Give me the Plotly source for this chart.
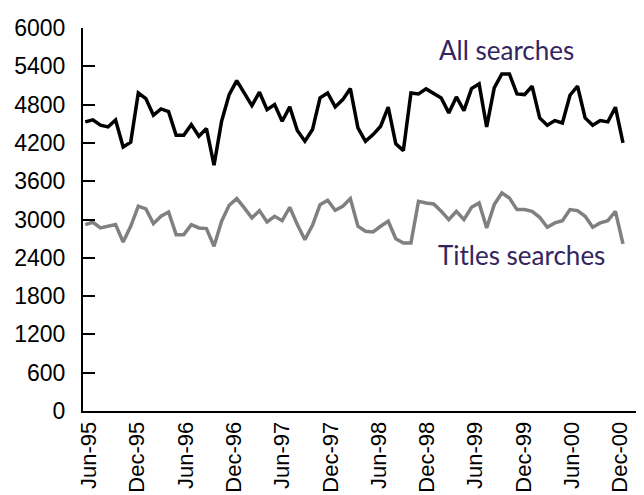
import numpy as np
import plotly.graph_objects as go

# Monthly series (index positions)
all_searches = [4529, 4560, 4477, 4450, 4560, 4137, 4210, 4983, 4894, 4634,
                4732, 4690, 4320, 4320, 4486, 4305, 4424, 3850, 4540, 4957,
                5176, 4967, 4784, 4994, 4721, 4800, 4540, 4764, 4393, 4226,
                4409, 4905, 4983, 4764, 4878, 5051, 4435, 4226, 4330, 4461,
                4759, 4184, 4079, 4983, 4967, 5046, 4983, 4905, 4670, 4920,
                4706, 5051, 5124, 4450, 5061, 5281, 5281, 4967, 4957, 5088,
                4591, 4477, 4550, 4513, 4947, 5088, 4591, 4477, 4550, 4529,
                4759, 4200]
titles_searches = [2920, 2957, 2868, 2894, 2920, 2648, 2894, 3208, 3165, 2935,
                   3051, 3118, 2763, 2763, 2920, 2868, 2857, 2581, 2973, 3223,
                   3327, 3181, 3024, 3139, 2962, 3051, 2982, 3192, 2920, 2684,
                   2910, 3233, 3302, 3145, 3208, 3327, 2894, 2816, 2805, 2894,
                   2973, 2700, 2633, 2633, 3286, 3259, 3244, 3129, 2998, 3129,
                   2998, 3192, 3259, 2868, 3233, 3416, 3338, 3155, 3155, 3129,
                   3035, 2879, 2946, 2982, 3155, 3139, 3051, 2879, 2946, 2982,
                   3129, 2617]
tick_labels = ["Jun-95", "Dec-95", "Jun-96", "Dec-96", "Jun-97", "Dec-97",
               "Jun-98", "Dec-98", "Jun-99", "Dec-99", "Jun-00", "Dec-00"]
y_ticks = list(range(0, 6001, 600))

x = list(range(len(all_searches)))
tick_pos = np.linspace(0.5, 70.6, len(tick_labels))

fig = go.Figure()
fig.add_trace(go.Scatter(x=x, y=titles_searches, mode="lines",
                         line=dict(color="#808080", width=3.5), showlegend=False))
fig.add_trace(go.Scatter(x=x, y=all_searches, mode="lines",
                         line=dict(color="#000000", width=3.5), showlegend=False))

label_font = dict(family="Lato", size=26, color="#34255F")
fig.add_annotation(x=0.745, xref="paper", y=5660, yref="y", text="All searches",
                   showarrow=False, font=label_font, xanchor="center", yanchor="middle")
fig.add_annotation(x=0.77, xref="paper", y=2440, yref="y", text="Titles searches",
                   showarrow=False, font=label_font, xanchor="center", yanchor="middle")

fig.update_layout(
    width=644, height=495,
    margin=dict(l=75, r=0, t=20, b=92),
    paper_bgcolor="white", plot_bgcolor="white",
    font=dict(family="Liberation Sans", color="black"),
)
fig.update_xaxes(
    range=[-0.3, 74.83], showgrid=False, zeroline=False,
    showline=True, linecolor="black", linewidth=2,
    tickmode="array", tickvals=tick_pos, ticktext=tick_labels,
    ticks="", tickangle=-90, tickfont=dict(family="Liberation Sans", size=22, color="black"),
)
fig.update_yaxes(
    range=[0, 6000], showgrid=False, zeroline=False,
    showline=True, linecolor="black", linewidth=2,
    tickmode="array", tickvals=y_ticks,
    ticks="inside", ticklen=12, tickwidth=2, tickcolor="black",
    tickfont=dict(family="Liberation Sans", size=23, color="black"), ticklabelstandoff=11,
)

fig.write_html("out.html")
